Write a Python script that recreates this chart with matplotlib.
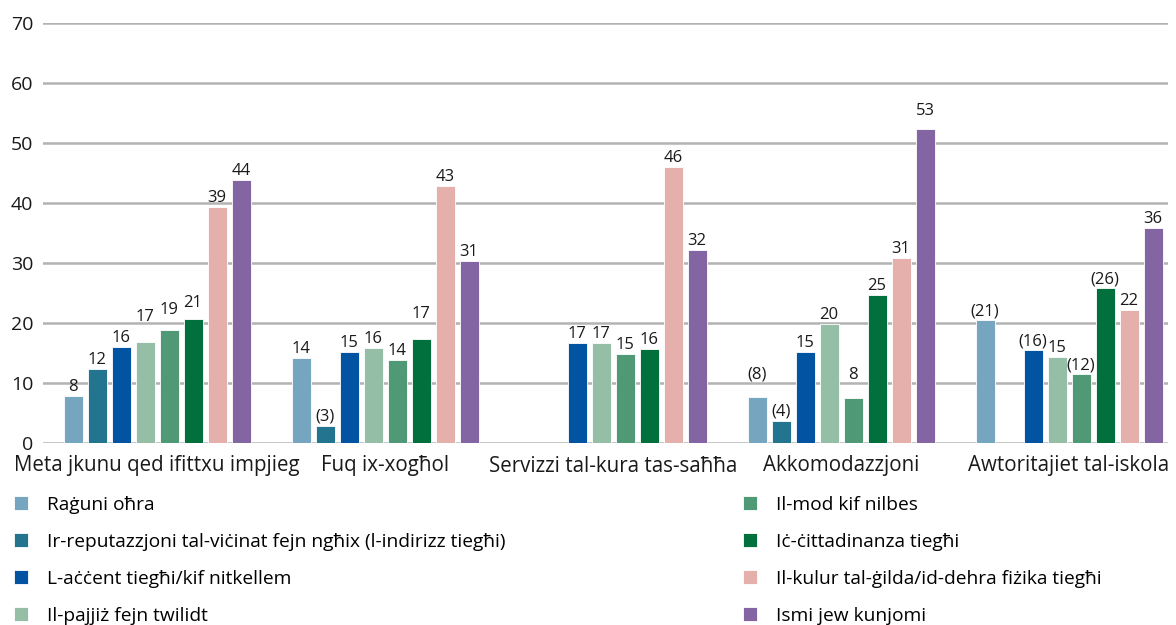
import numpy as np
import matplotlib
matplotlib.use("Agg")
import matplotlib.pyplot as plt

plt.rcParams['font.family'] = ['Open Sans', 'DejaVu Sans']

categories = ["Meta jkunu qed ifittxu impjieg", "Fuq ix-xogħol",
              "Servizzi tal-kura tas-saħħa", "Akkomodazzjoni",
              "Awtoritajiet tal-iskola"]

series_names = ["Raġuni oħra",
                "Ir-reputazzjoni tal-viċinat fejn ngħix (l-indirizz tiegħi)",
                "L-aċċent tiegħi/kif nitkellem",
                "Il-pajjiż fejn twilidt",
                "Il-mod kif nilbes",
                "Iċ-ċittadinanza tiegħi",
                "Il-kulur tal-ġilda/id-dehra fiżika tiegħi",
                "Ismi jew kunjomi"]

nan = np.nan
raguni = [7.9, 14.2, nan, 7.7, 20.5]
reputazzjoni = [12.3, 2.9, nan, 3.7, nan]
accent = [16.0, 15.1, 16.7, 15.1, 15.5]
pajjiz = [16.9, 15.8, 16.7, 19.9, 14.4]
mod = [18.8, 13.8, 14.9, 7.5, 11.5]
cittadinanza = [20.6, 17.3, 15.6, 24.6, 25.8]
kulur = [39.3, 42.9, 46.0, 30.8, 22.2]
ismi = [43.8, 30.4, 32.2, 52.4, 35.9]

raguni_lbl = ["8", "14", "", "(8)", "(21)"]
reputazzjoni_lbl = ["12", "(3)", "", "(4)", ""]
accent_lbl = ["16", "15", "17", "15", "(16)"]
pajjiz_lbl = ["17", "16", "17", "20", "15"]
mod_lbl = ["19", "14", "15", "8", "(12)"]
cittadinanza_lbl = ["21", "17", "16", "25", "(26)"]
kulur_lbl = ["39", "43", "46", "31", "22"]
ismi_lbl = ["44", "31", "32", "53", "36"]

yticks = [0, 10, 20, 30, 40, 50, 60, 70]

values = [raguni, reputazzjoni, accent, pajjiz, mod, cittadinanza, kulur, ismi]
labels = [raguni_lbl, reputazzjoni_lbl, accent_lbl, pajjiz_lbl, mod_lbl,
          cittadinanza_lbl, kulur_lbl, ismi_lbl]
colors = ["#76A6BF", "#23758F", "#0254A2", "#94BEA6", "#4F9977",
          "#01703C", "#E5AFAB", "#8265A2"]

# extra upward nudges (pixels) of some value labels, as placed in the original
label_nudge = {(3, 0): 16, (4, 0): 11, (5, 0): 7, (5, 1): 16,
               (0, 3): 13, (4, 3): 14, (7, 3): 9}

W, H = 1176, 625
fig = plt.figure(figsize=(W / 100, H / 100), dpi=100)
ax = fig.add_axes([43 / W, 1 - 443 / H, (1168 - 43) / W, (443 - 23) / H])

step = 24 / 228
bw = 19 / 228
x = np.arange(len(categories))
handles = []
for i, (vals, lbls, c) in enumerate(zip(values, labels, colors)):
    pos = x + (i - 3.5) * step
    b = ax.bar(pos, vals, width=bw, color=c, edgecolor='white', linewidth=0.6,
               label=series_names[i], zorder=3)
    handles.append(b)
    for g, (p, v, t) in enumerate(zip(pos, vals, lbls)):
        if t and not np.isnan(v):
            dy = (5 + label_nudge.get((i, g), 0)) * 0.72
            ax.annotate(t, (p, v), xytext=(0, dy), textcoords='offset points',
                        ha='center', va='baseline', fontsize=12,
                        color='#1a1a1a')

ax.set_xlim(-0.5, 4.434)
ax.set_ylim(0, 70)
ax.set_yticks(yticks)
ax.set_yticklabels([str(t) for t in yticks])
ax.set_xticks(x)
ax.set_xticklabels(categories, fontsize=14.8)
ax.tick_params(axis='both', length=0, colors='#1a1a1a')
ax.tick_params(axis='y', pad=7, labelsize=14)
ax.tick_params(axis='x', pad=9)
ax.grid(axis='y', color='#b3b3b3', linewidth=1.8, zorder=0)
for s in ax.spines.values():
    s.set_visible(False)

leg_kw = dict(loc='upper left', frameon=False, fontsize=13.8,
              handlelength=0.73, handleheight=0.73, handletextpad=1.0,
              labelspacing=0.99, borderaxespad=0)
fig.legend(handles[:4], series_names[:4],
           bbox_to_anchor=(6 / W, 1 - 488 / H), **leg_kw)
fig.legend(handles[4:], series_names[4:],
           bbox_to_anchor=(735 / W, 1 - 488 / H), **leg_kw)

fig.savefig("out.png", dpi=100)
